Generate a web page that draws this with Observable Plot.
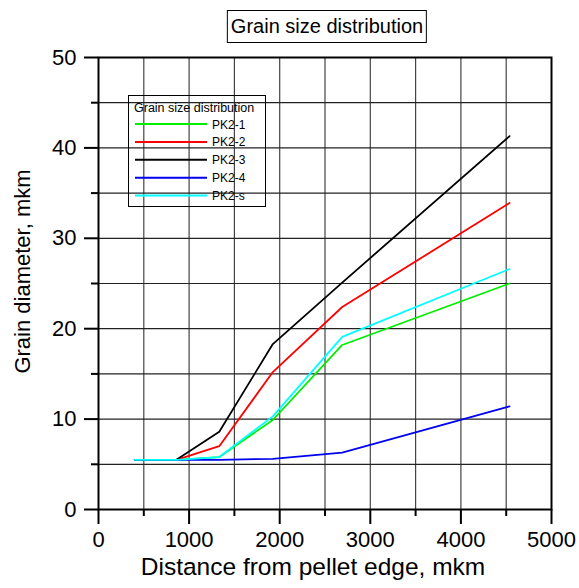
<!DOCTYPE html>
<html>
<head>
<meta charset="utf-8">
<script src="https://cdn.jsdelivr.net/npm/d3@7"></script>
<script src="https://cdn.jsdelivr.net/npm/@observablehq/plot@0.6"></script>
<style>
  html, body { margin: 0; padding: 0; background: white; }
  #wrap { position: relative; width: 579px; height: 588px; font-family: "Liberation Sans", Arial, sans-serif; }
  #title { position: absolute; top: 10px; left: 327px; transform: translateX(-50%); border: 1px solid black;
           font-size: 20px; line-height: 23px; padding: 4px 3px 4px 3px; white-space: nowrap; background: white; }
  #chart { position: absolute; left: 0; top: 0; }
</style>
</head>
<body>
<div id="wrap">
  <div id="chart"></div>
  <div id="title"></div>
</div>
<script>
const titleText = "Grain size distribution";
const legendTitle = "Grain size distribution";
const xLabel = "Distance from pellet edge, mkm";
const yLabel = "Grain diameter, mkm";

const distance = [400, 860, 1333, 1924, 2690, 4537];
const series = ["PK2-1", "PK2-2", "PK2-3", "PK2-4", "PK2-s"];
const colors = ["#00ee00", "#ff0000", "#000000", "#0000ee", "#00ffff"];
const pk2_1 = [5.5, 5.5, 5.8, 9.9, 18.2, 25.0];
const pk2_2 = [5.5, 5.5, 7.0, 15.2, 22.4, 33.9];
const pk2_3 = [5.5, 5.5, 8.6, 18.3, 25.1, 41.3];
const pk2_4 = [5.5, 5.5, 5.5, 5.6, 6.3, 11.4];
const pk2_s = [5.5, 5.5, 5.8, 10.3, 19.1, 26.6];

const xTicks = [0, 1000, 2000, 3000, 4000, 5000];
const xMinor = [500, 1500, 2500, 3500, 4500];
const yTicks = [0, 10, 20, 30, 40, 50];
const yMinor = [5, 15, 25, 35, 45];
const xGrid = [500, 1000, 1500, 2000, 2500, 3000, 3500, 4000, 4500];
const yGrid = [5, 10, 15, 20, 25, 30, 35, 40, 45];

const values = [pk2_1, pk2_2, pk2_3, pk2_4, pk2_s];
const data = series.flatMap((s, i) => distance.map((x, j) => ({series: s, x, y: values[i][j]})));

const font = "'Liberation Sans', Arial, sans-serif";

const chart = Plot.plot({
  width: 579,
  height: 588,
  marginTop: 57,
  marginBottom: 79,
  marginLeft: 98,
  marginRight: 28,
  style: {fontFamily: font, fontSize: "22px", background: "white", color: "black"},
  x: {domain: [0, 5000]},
  y: {domain: [0, 50]},
  color: {domain: series, range: colors},
  marks: [
    Plot.gridX(xGrid, {stroke: "#444", strokeOpacity: 1, strokeWidth: 1.2}),
    Plot.gridY(yGrid, {stroke: "#222", strokeOpacity: 1, strokeWidth: 1.2}),
    Plot.line(data, {x: "x", y: "y", z: "series", stroke: "series", strokeWidth: 1.8}),
    Plot.frame({stroke: "black", strokeWidth: 2}),
    Plot.axisX(xTicks, {tickSize: 15, tickPadding: 7, strokeWidth: 2, fontSize: 22, tickFormat: d => String(d), label: null}),
    Plot.axisX(xMinor, {tickSize: 7, strokeWidth: 2, text: null, label: null}),
    Plot.axisY(yTicks, {tickSize: 14, tickPadding: 8, strokeWidth: 2, fontSize: 22, tickFormat: d => String(d), label: null}),
    Plot.axisY(yMinor, {tickSize: 7, strokeWidth: 2, text: null, label: null}),
    Plot.text([xLabel], {frameAnchor: "bottom", textAnchor: "middle", dx: -12, dy: 65, fontSize: 24.5, fill: "black"}),
    Plot.text([yLabel], {frameAnchor: "left", textAnchor: "middle", rotate: -90, dx: -76, dy: -12, fontSize: 22, fill: "black"})
  ]
});
document.getElementById("chart").appendChild(chart);
document.getElementById("title").textContent = titleText;

// Legend (transparent box, drawn on top of the grid)
const svg = d3.select(chart);
const lg = svg.append("g").attr("font-family", font).attr("font-size", 12).attr("text-anchor", "start");
lg.append("rect").attr("x", 128.5).attr("y", 95.5).attr("width", 137).attr("height", 111)
  .attr("fill", "none").attr("stroke", "black").attr("stroke-width", 1);
lg.append("text").attr("x", 134).attr("y", 111.5).attr("font-size", 12.5).text(legendTitle);
series.forEach((s, i) => {
  const yy = 124 + i * 17.9;
  lg.append("line").attr("x1", 135).attr("x2", 207).attr("y1", yy).attr("y2", yy)
    .attr("stroke", colors[i]).attr("stroke-width", 2);
  lg.append("text").attr("x", 212).attr("y", yy + 4.5).text(s);
});
</script>
</body>
</html>
